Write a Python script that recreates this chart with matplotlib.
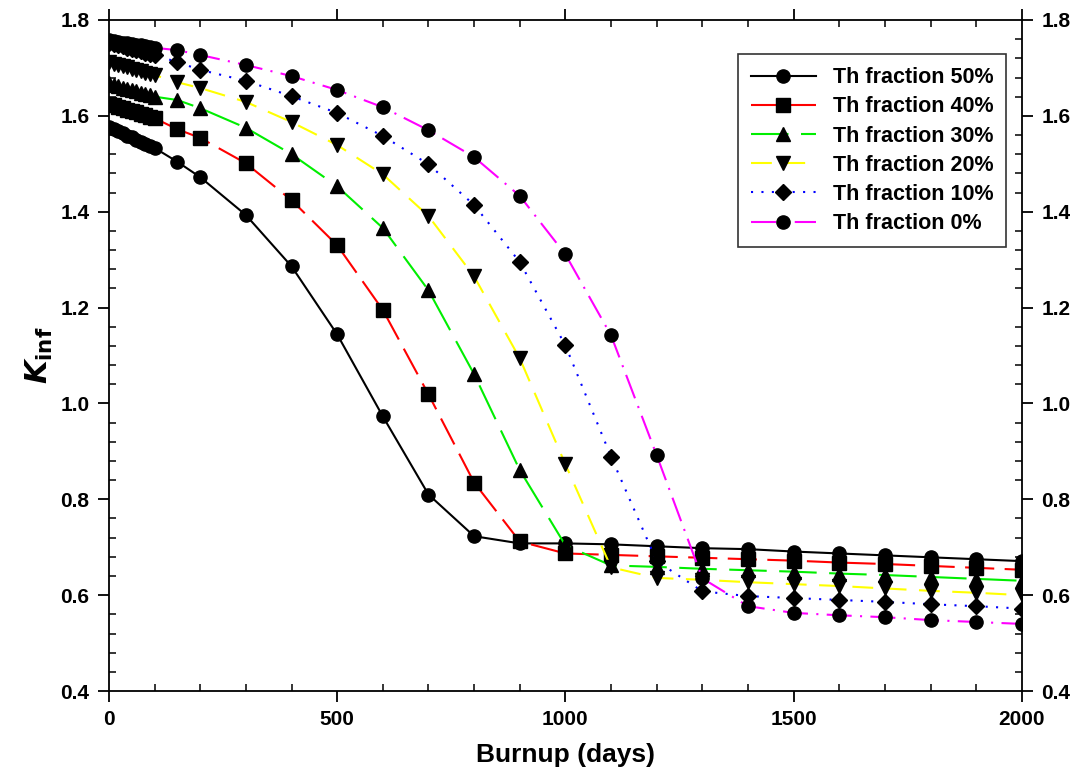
import matplotlib
matplotlib.use("Agg")
import matplotlib.pyplot as plt
from matplotlib.ticker import AutoMinorLocator, MultipleLocator

plt.rcParams['font.family'] = ['Liberation Sans', 'DejaVu Sans']
plt.rcParams['font.weight'] = 'bold'

# Burnup points (days)
days = [0, 10, 20, 30, 40, 50, 60, 70, 80, 90, 100, 150, 200, 300, 400, 500, 600, 700, 800, 900,
        1000, 1100, 1200, 1300, 1400, 1500, 1600, 1700, 1800, 1900, 2000]

th50 = [1.577, 1.573, 1.568, 1.564, 1.559, 1.555, 1.550, 1.546, 1.542, 1.537, 1.533, 1.504, 1.472,
        1.393, 1.286, 1.144, 0.973, 0.810, 0.723, 0.708, 0.708, 0.706, 0.702, 0.698, 0.696, 0.691,
        0.687, 0.683, 0.679, 0.675, 0.671]
th40 = [1.625, 1.622, 1.619, 1.616, 1.613, 1.610, 1.607, 1.604, 1.601, 1.598, 1.595, 1.572, 1.554,
        1.501, 1.424, 1.330, 1.195, 1.019, 0.835, 0.712, 0.687, 0.684, 0.681, 0.678, 0.675, 0.672,
        0.668, 0.665, 0.661, 0.657, 0.653]
th30 = [1.668, 1.665, 1.662, 1.659, 1.656, 1.654, 1.651, 1.648, 1.645, 1.643, 1.640, 1.633, 1.616,
        1.575, 1.520, 1.453, 1.366, 1.236, 1.061, 0.861, 0.704, 0.662, 0.659, 0.655, 0.652, 0.649,
        0.645, 0.642, 0.638, 0.634, 0.630]
th20 = [1.712, 1.709, 1.707, 1.704, 1.701, 1.698, 1.696, 1.693, 1.690, 1.688, 1.685, 1.670, 1.658,
        1.629, 1.587, 1.539, 1.478, 1.391, 1.265, 1.094, 0.873, 0.658, 0.636, 0.632, 0.627, 0.623,
        0.619, 0.614, 0.609, 0.605, 0.600]
th10 = [1.752, 1.750, 1.747, 1.745, 1.742, 1.740, 1.737, 1.735, 1.732, 1.730, 1.727, 1.712, 1.696,
        1.673, 1.641, 1.606, 1.558, 1.499, 1.414, 1.295, 1.121, 0.889, 0.671, 0.608, 0.598, 0.594,
        0.590, 0.586, 0.581, 0.577, 0.572]
th0 = [1.758, 1.756, 1.755, 1.753, 1.752, 1.750, 1.748, 1.747, 1.745, 1.744, 1.742, 1.737, 1.727,
       1.706, 1.683, 1.654, 1.618, 1.570, 1.514, 1.433, 1.311, 1.142, 0.892, 0.635, 0.577, 0.563,
       0.558, 0.554, 0.548, 0.544, 0.540]

series = [th50, th40, th30, th20, th10, th0]
labels = ["Th fraction 50%", "Th fraction 40%", "Th fraction 30%",
          "Th fraction 20%", "Th fraction 10%", "Th fraction 0%"]
colors = ['black', 'red', '#00ee00', '#ffff00', 'blue', 'magenta']
markers = ['o', 's', '^', 'v', 'D', 'o']
styles = ['-', (0, (14, 5)), (0, (18, 6)), (0, (10, 6)), (0, (1, 4)), (0, (12, 4, 1, 4))]
msizes = [9.5, 9.5, 9.5, 9.5, 8.5, 9.5]

fig = plt.figure(figsize=(10.79, 7.84), dpi=100)
ax = fig.add_axes([0.101, 0.1186, 0.846, 0.8559])

for y, lab, c, m, ls, ms in zip(series, labels, colors, markers, styles, msizes):
    ax.plot(days, y, color=c, linestyle=ls, linewidth=1.5, marker=m, markersize=ms,
            markerfacecolor='black', markeredgecolor='black', label=lab)

ax.set_xlim(0, 2000)
ax.set_ylim(0.4, 1.8)
ax.xaxis.set_major_locator(MultipleLocator(500))
ax.yaxis.set_major_locator(MultipleLocator(0.2))
ax.xaxis.set_minor_locator(AutoMinorLocator(5))
ax.yaxis.set_minor_locator(AutoMinorLocator(5))
ax.yaxis.set_major_formatter(matplotlib.ticker.FormatStrFormatter('%.1f'))

ax.tick_params(which='major', direction='out', length=8, width=1.3, labelsize=15,
               top=True, right=True, labelright=True, pad=6)
ax.tick_params(which='minor', direction='in', length=5, width=1.1, top=True, right=True)
for s in ax.spines.values():
    s.set_linewidth(1.3)

ax.set_xlabel("Burnup (days)", fontsize=19, fontweight='bold', labelpad=10)
ax.set_ylabel(r"$\mathit{K}_{\mathbf{inf}}$", fontsize=22, labelpad=4)

leg = ax.legend(loc='upper right', bbox_to_anchor=(0.995, 0.965),
                frameon=True, fancybox=False, edgecolor='black', handlelength=3.0,
                borderpad=0.6, labelspacing=0.38, prop={'weight': 'bold', 'size': 15.5})
leg.get_frame().set_linewidth(1.2)

fig.savefig("out.png", dpi=100)
